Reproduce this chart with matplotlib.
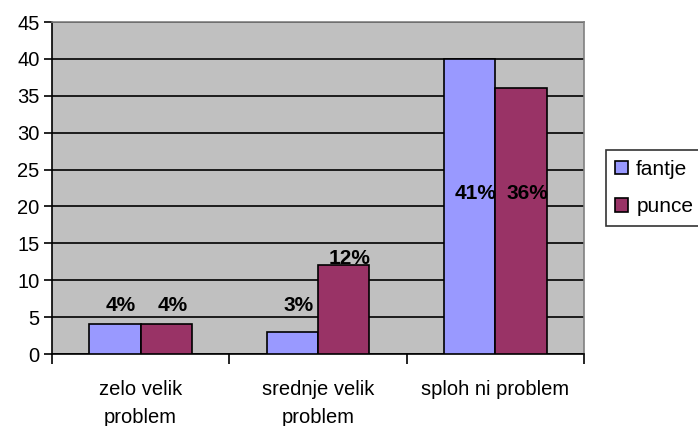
import numpy as np
import matplotlib.pyplot as plt

plt.rcParams['font.family'] = ['Liberation Sans', 'DejaVu Sans']

categories = ['zelo velik\nproblem', 'srednje velik\nproblem', 'sploh ni problem']
fantje = [4, 3, 40]
punce = [4, 12, 36]
fantje_labels = ['4%', '3%', '41%']
punce_labels = ['4%', '12%', '36%']
fantje_label_y = [6.6, 6.6, 21.8]
punce_label_y = [6.6, 13.0, 21.8]

fig = plt.figure(figsize=(6.98, 4.26), dpi=100)
ax = fig.add_axes([52 / 698, 1 - 354 / 426, 532 / 698, 332 / 426])
ax.set_facecolor('#C0C0C0')

x = np.arange(len(categories))
w = 0.29
ax.bar(x - w / 2, fantje, w, color='#9999FF', edgecolor='black', linewidth=1.2, label='fantje', zorder=3)
ax.bar(x + w / 2, punce, w, color='#993366', edgecolor='black', linewidth=1.2, label='punce', zorder=3)

# data labels sit a few pixels right of the bar centre, like in the original
for i in range(len(categories)):
    ax.annotate(fantje_labels[i], (x[i] - w / 2, fantje_label_y[i]), xytext=(6, 0),
                textcoords='offset pixels', ha='center', va='center',
                fontsize=15, fontweight='bold', zorder=4)
    ax.annotate(punce_labels[i], (x[i] + w / 2, punce_label_y[i]), xytext=(6, 0),
                textcoords='offset pixels', ha='center', va='center',
                fontsize=15, fontweight='bold', zorder=4)

ax.set_xlim(-0.5, 2.5)
ax.set_ylim(0, 45)
ax.set_yticks(range(0, 46, 5))
ax.yaxis.grid(True, color='black', linewidth=1.2, zorder=1)
ax.set_axisbelow(True)

ax.set_xticks(x)
ax.set_xticklabels(categories, fontsize=14.5, linespacing=1.55)
ax.set_xticks([-0.5, 0.5, 1.5, 2.5], minor=True)
ax.tick_params(axis='x', which='major', length=0, pad=19)
ax.tick_params(axis='x', which='minor', length=7, width=1.2, direction='out')
ax.tick_params(axis='y', labelsize=14.5, length=6, width=1.2, direction='out', pad=3)

for s in ['left', 'bottom']:
    ax.spines[s].set_color('black')
    ax.spines[s].set_linewidth(1.2)
for s in ['top', 'right']:
    ax.spines[s].set_color('#808080')
    ax.spines[s].set_linewidth(1.2)

leg = ax.legend(loc='center left', bbox_to_anchor=(554 / 532, 0.5),
                fontsize=15, frameon=True, fancybox=False, edgecolor='black',
                handlelength=0.6, handleheight=0.6, handletextpad=0.4,
                borderpad=0.45, labelspacing=0.9, borderaxespad=0)
leg.get_frame().set_linewidth(1.2)

fig.savefig('out.png', dpi=100)
